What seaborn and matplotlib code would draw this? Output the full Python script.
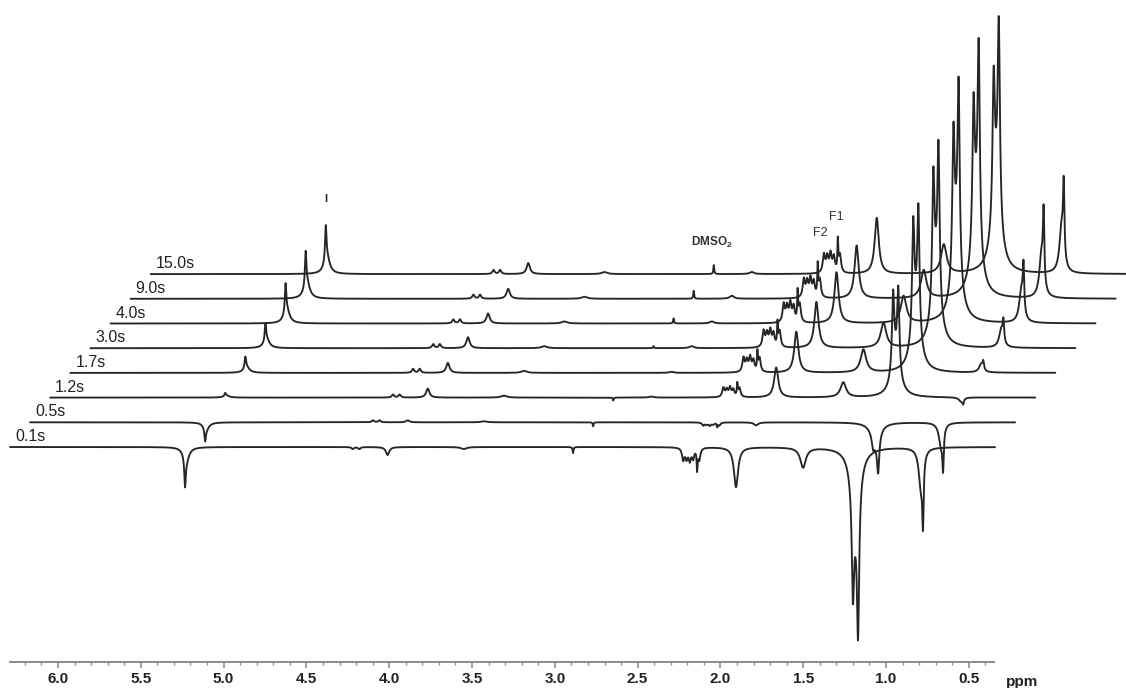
import numpy as np
import pandas as pd
import seaborn as sns
import matplotlib
matplotlib.use("Agg")
import matplotlib.pyplot as plt
from matplotlib.ticker import FixedLocator

sns.set_style("white")
plt.rcParams['font.family'] = ['Liberation Sans', 'DejaVu Sans']
plt.rcParams['mathtext.fontset'] = 'custom'
plt.rcParams['mathtext.rm'] = 'Liberation Sans'
plt.rcParams['mathtext.bf'] = 'Liberation Sans:bold'

# recovery delays, front spectrum first
delays = ["0.1s", "0.5s", "1.2s", "1.7s", "3.0s", "4.0s", "9.0s", "15.0s"]

# signals: position (ppm), half width (ppm), height for each delay (front -> back)
sig_I = (5.233, 0.005, [-28, -13, 3, 11, 17, 28, 33, 34])
sig_I_base = (5.226, 0.020, [-14, -7, 2, 6, 9, 14, 17, 17])
sig_422 = (4.220, 0.008, [-2, 2, 3, 4, 4, 4, 4, 4])
sig_418 = (4.180, 0.008, [-2, 2, 3, 4, 4, 4, 4, 4])
sig_401 = (4.010, 0.012, [-8, 2, 9, 10, 11, 10, 10, 11])
sig_355 = (3.550, 0.020, [-2, 1, 2, 2, 2, 2, 2, 2])
sig_dmso2 = (2.890, 0.003, [-6, -4, -3, 0, 2, 5, 8, 9])
sig_266 = (2.660, 0.015, [0, 0, 1, 1, 2, 2, 3, 2])
sig_m1 = (2.225, 0.008, [-12, -3, 9, 14, 16, 18, 18, 18])
sig_m2 = (2.205, 0.008, [-10, -2, 7, 11, 13, 15, 15, 15])
sig_m3 = (2.185, 0.008, [-12, -3, 9, 14, 16, 18, 18, 18])
sig_m4 = (2.165, 0.008, [-10, -2, 7, 11, 13, 15, 15, 15])
sig_m5 = (2.128, 0.008, [-12, -3, 9, 14, 16, 18, 18, 18])
sig_F1 = (2.141, 0.003, [-20, -4, 12, 18, 22, 28, 30, 30])
sig_191 = (1.906, 0.015, [-40, -3, 30, 41, 46, 51, 53, 56])
sig_150 = (1.501, 0.020, [-20, 0, 15, 23, 25, 27, 28, 29])
sig_120 = (1.200, 0.008, [-100, -10, 75, 105, 120, 130, 130, 132])
sig_117 = (1.169, 0.008, [-140, -35, 80, 120, 150, 180, 190, 187])
sig_118_base = (1.185, 0.030, [-60, -20, 35, 55, 65, 75, 80, 80])
sig_078 = (0.777, 0.005, [-62, -38, -5, 8, 20, 45, 70, 72])
sig_079_base = (0.790, 0.015, [-38, -22, -4, 8, 18, 32, 42, 45])

signals = [sig_I, sig_I_base, sig_422, sig_418, sig_401, sig_355, sig_dmso2, sig_266,
           sig_m1, sig_m2, sig_m3, sig_m4, sig_m5, sig_F1, sig_191, sig_150,
           sig_120, sig_117, sig_118_base, sig_078, sig_079_base]

major_ticks = [6.0, 5.5, 5.0, 4.5, 4.0, 3.5, 3.0, 2.5, 2.0, 1.5, 1.0, 0.5]

# stacking offsets of the pseudo-3D plot
shift_ppm = 0.1214
shift_y = 24.7
base_y = 241

ppm = np.linspace(6.29, 0.342, 9000)
frames = []
for k, d in enumerate(delays):
    spec = np.zeros_like(ppm)
    for pos, hw, h in signals:
        spec += h[k] / (1 + ((ppm - pos) / hw) ** 2)
    frames.append(pd.DataFrame({"x": ppm - k * shift_ppm,
                                "y": base_y + k * shift_y + spec,
                                "delay": d}))
df = pd.concat(frames, ignore_index=True)

fig = plt.figure(figsize=(11.26, 6.88), dpi=100)
ax = fig.add_axes([0, 0, 1, 1])
sns.lineplot(data=df, x="x", y="y", units="delay", estimator=None, sort=False,
             color="#262626", linewidth=1.35, ax=ax, legend=False)
ax.set_xlim(6.3502, -0.449)
ax.set_ylim(0, 688)
ax.set_xlabel("")
ax.set_ylabel("")
ax.set_yticks([])

# delay labels at the start of each trace
for k, d in enumerate(delays):
    ax.text(ppm[0] - k * shift_ppm - 0.03, base_y + k * shift_y + 3, d,
            fontsize=11.5, ha="left", va="bottom", color="#222222")

ax.text(sig_I[0] - 7 * shift_ppm, 489, "I", fontsize=8, fontweight="bold",
        ha="center", va="center")
ax.text(sig_dmso2[0] - 7 * shift_ppm + 0.01, 446, r"DMSO$_\mathbf{2}$", fontsize=8.5,
        fontweight="bold", ha="center", va="center", color="#333333")
ax.text(1.398, 455, "F2", fontsize=9, ha="center", va="center", color="#333333")
ax.text(1.302, 471, "F1", fontsize=9, ha="center", va="center", color="#333333")

# ppm axis
for s in ["left", "right", "top"]:
    ax.spines[s].set_visible(False)
ax.spines["bottom"].set_position(("data", 26))
ax.spines["bottom"].set_bounds(6.29, 0.35)
ax.spines["bottom"].set_color("#8c8c8c")
ax.spines["bottom"].set_linewidth(1.4)
ax.xaxis.set_major_locator(FixedLocator(major_ticks))
minor = [m / 10 for m in range(4, 63) if m % 5 != 0]
ax.xaxis.set_minor_locator(FixedLocator(minor))
ax.set_xticklabels([f"{v:.1f}" for v in major_ticks], fontweight="bold")
ax.tick_params(axis="x", which="major", length=4.5, width=1.2, color="#8c8c8c",
               direction="out", pad=3, labelsize=11, bottom=True, labelcolor="#222222")
ax.tick_params(axis="x", which="minor", length=2.2, width=1.0, color="#8c8c8c",
               direction="out", bottom=True)
ax.text(0.18, 6, "ppm", fontsize=11, fontweight="bold", ha="center", va="center",
        color="#222222")

fig.savefig("out.png", dpi=100)
